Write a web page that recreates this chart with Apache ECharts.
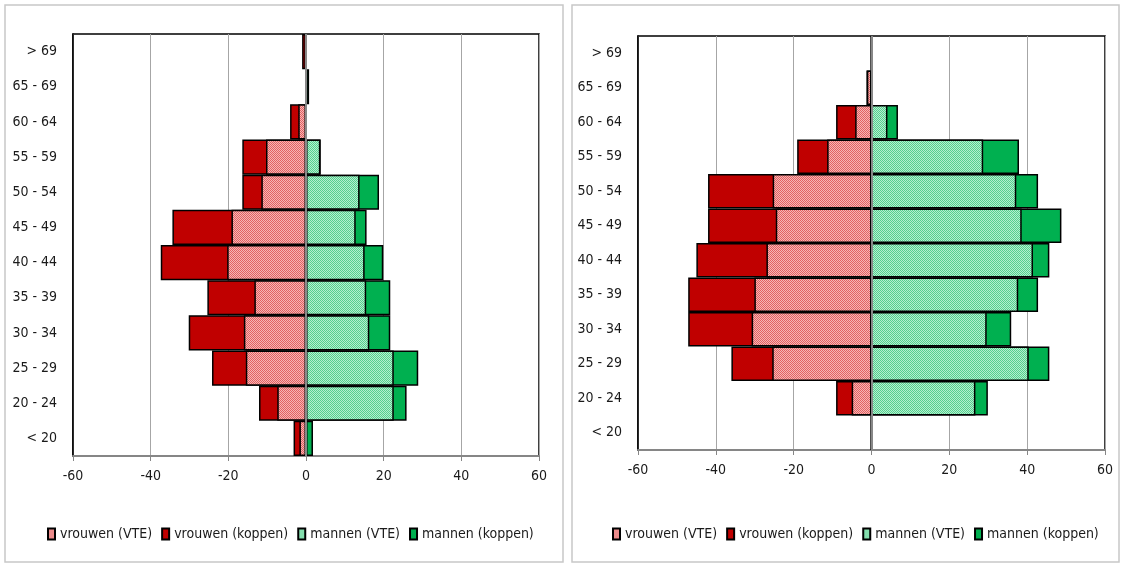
<!DOCTYPE html>
<html>
<head>
<meta charset="utf-8">
<script src="https://cdn.jsdelivr.net/npm/echarts@6/dist/echarts.min.js"></script>
<style>
html,body{margin:0;padding:0;background:#fff;}
#chart{width:1124px;height:565px;}
</style>
</head>
<body>
<div id="chart"></div>
<script>
// Age categories (bottom to top)
const categories = ['< 20','20 - 24','25 - 29','30 - 34','35 - 39','40 - 44','45 - 49','50 - 54','55 - 59','60 - 64','65 - 69','> 69'];
const xTicks = [-60,-40,-20,0,20,40,60];
const seriesNames = ['vrouwen (VTE)','vrouwen (koppen)','mannen (VTE)','mannen (koppen)'];

// Left panel
const vrouwenVTE_L    = [-1.7, -7.4, -15.5, -16.0, -13.3, -20.3, -19.2, -11.5, -10.3, -2.0, 0, -0.3];
const vrouwenKoppen_L = [-3.2, -12.1, -24.2, -30.2, -25.4, -37.4, -34.4, -16.4, -16.4, -4.1, 0, -1.0];
const mannenVTE_L     = [0, 22.6, 22.6, 16.3, 15.5, 15.1, 12.8, 13.8, 3.7, 0, 0.2, 0];
const mannenKoppen_L  = [1.8, 25.9, 28.9, 21.7, 21.7, 19.9, 15.6, 18.8, 3.8, 0, 0.8, 0];

// Right panel
const vrouwenVTE_R    = [0, -5.1, -25.5, -30.8, -30.1, -27.0, -24.6, -25.4, -11.4, -4.2, -1.2, 0];
const vrouwenKoppen_R = [0, -9.1, -36.0, -47.1, -47.1, -45.0, -42.0, -42.0, -19.1, -9.1, -1.3, 0];
const mannenVTE_R     = [0, 26.7, 40.4, 29.6, 37.7, 41.5, 38.6, 37.2, 28.7, 4.1, 0, 0];
const mannenKoppen_R  = [0, 29.9, 45.7, 35.9, 42.8, 45.7, 48.8, 42.8, 37.9, 6.8, 0, 0];

function checker(light, dark) {
  const c = document.createElement('canvas');
  c.width = 2; c.height = 2;
  const ctx = c.getContext('2d');
  ctx.fillStyle = light; ctx.fillRect(0,0,2,2);
  ctx.fillStyle = dark; ctx.fillRect(0,0,1,1); ctx.fillRect(1,1,1,1);
  return {image: c, repeat: 'repeat'};
}
const redPattern = checker('#f7b4b4', '#e16262');
const greenPattern = checker('#b4efcf', '#55cf8e');
const redSolid = '#c00000';
const greenSolid = '#00b050';

const FONT = '"DejaVu Sans Condensed", "Liberation Sans Narrow", sans-serif';
const textColor = '#1a1a1a';
const FS = 14;

const grids = [
  {left: 73, top: 34, width: 466, height: 422},
  {left: 638, top: 36, width: 467, height: 414}
];

function xAxisFor(i) {
  return {
    type: 'value', gridIndex: i, min: xTicks[0], max: xTicks[xTicks.length-1], interval: 20,
    axisLine: {show: true, lineStyle: {color: '#868686', width: 2}},
    axisTick: {show: true, length: 5, lineStyle: {color: '#868686', width: 1}},
    axisLabel: {fontSize: FS, fontFamily: FONT, color: textColor, margin: 13},
    splitLine: {show: true, lineStyle: {color: '#a6a6a6', width: 1}}
  };
}
function yAxisFor(i) {
  return {
    type: 'category', gridIndex: i, data: categories,
    axisLine: {show: true, onZero: false, lineStyle: {color: '#000', width: 1.5}},
    axisTick: {show: false},
    axisLabel: {fontSize: FS, fontFamily: FONT, color: textColor, margin: 16},
    splitLine: {show: false}
  };
}

function barSeries(name, data, color, gi, z) {
  return {
    name: name, type: 'bar', xAxisIndex: gi, yAxisIndex: gi, data: data,
    barWidth: '100%', barGap: '-100%', z: z,
    itemStyle: {color: color, borderColor: '#000', borderWidth: 1.5},
    emphasis: {disabled: true}, animation: false
  };
}
function zeroLine(gi) {
  return {
    name: 'zero', type: 'line', xAxisIndex: gi, yAxisIndex: gi, data: [], z: 10,
    markLine: {silent: true, symbol: ['none','none'], label: {show: false},
      lineStyle: {color: '#888888', width: 2, type: 'solid'}, data: [{xAxis: 0}]},
    animation: false
  };
}

const panels = [
  [vrouwenVTE_L, vrouwenKoppen_L, mannenVTE_L, mannenKoppen_L],
  [vrouwenVTE_R, vrouwenKoppen_R, mannenVTE_R, mannenKoppen_R]
];
const series = [];
panels.forEach((p, gi) => {
  series.push(barSeries(seriesNames[1], p[1], redSolid, gi, 2));
  series.push(barSeries(seriesNames[0], p[0], redPattern, gi, 3));
  series.push(barSeries(seriesNames[3], p[3], greenSolid, gi, 2));
  series.push(barSeries(seriesNames[2], p[2], greenPattern, gi, 3));
  series.push(zeroLine(gi));
});

function legendFor(left) {
  return {
    data: seriesNames, left: left, top: 522, width: 540, icon: 'rect', itemWidth: 7, itemHeight: 11,
    itemGap: 9, textStyle: {fontSize: FS, fontFamily: FONT, color: textColor},
    selectedMode: false
  };
}

const chart = echarts.init(document.getElementById('chart'), null, {renderer: 'canvas'});
chart.setOption({
  backgroundColor: '#fff',
  animation: false,
  grid: grids.map(g => Object.assign({show: true, borderColor: '#000', borderWidth: 1.5, backgroundColor: 'transparent'}, g)),
  xAxis: [xAxisFor(0), xAxisFor(1)],
  yAxis: [yAxisFor(0), yAxisFor(1)],
  legend: [legendFor(42), legendFor(607)],
  graphic: [
    {type: 'rect', shape: {x: 5, y: 5, width: 558, height: 557}, style: {fill: 'none', stroke: '#c8c8c8', lineWidth: 1.5}, silent: true, z: -1},
    {type: 'rect', shape: {x: 572, y: 5, width: 547, height: 557}, style: {fill: 'none', stroke: '#c8c8c8', lineWidth: 1.5}, silent: true, z: -1}
  ],
  series: series
});
</script>
</body>
</html>
